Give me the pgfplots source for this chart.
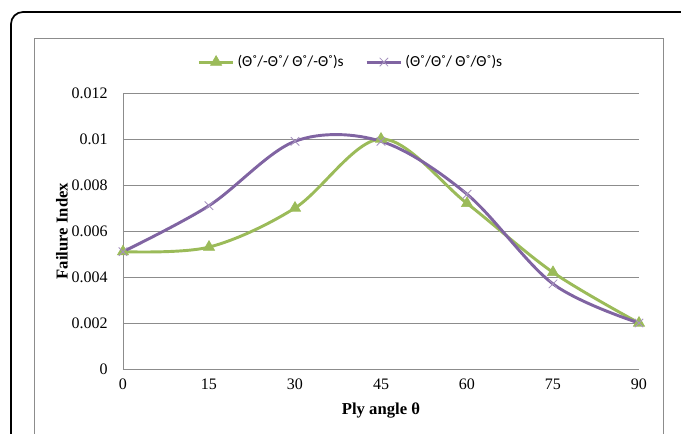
\documentclass[border=0pt]{standalone}
\usepackage{pgfplots}
\pgfplotsset{compat=1.18}
\usepackage{fontspec}
\setmainfont{Liberation Serif}
\newfontfamily\legfont{Carlito}
\definecolor{ogreen}{HTML}{9BBB59}
\definecolor{opurple}{HTML}{8064A2}
\definecolor{gridgray}{HTML}{8C8C8C}
\begin{document}
\begin{tikzpicture}
\useasboundingbox (0,0) rectangle (510.75pt,325.5pt);
\begin{scope}
\clip (0,0) rectangle (510.75pt,325.5pt);
\draw[black, line width=1.3pt, rounded corners=9pt] (8.25pt,-30pt) rectangle (540pt,316.5pt);
\draw[gridgray, line width=0.6pt] (25.5pt,-30pt) rectangle (497.25pt,297pt);
\end{scope}
\begin{axis}[
  at={(92.25pt,48.75pt)}, anchor=south west,
  scale only axis, width=387pt, height=207pt,
  xmin=0, xmax=90, ymin=0, ymax=0.012,
  xtick={0,15,...,90},
  ytick={0,0.002,0.004,0.006,0.008,0.01,0.012},
  yticklabels={0,0.002,0.004,0.006,0.008,0.01,0.012},
  scaled y ticks=false,
  /pgf/number format/assume math mode=true,
  tick label style={font=\fontsize{12}{14}\selectfont},
  major tick length=0pt,
  axis x line*=bottom, axis y line*=left,
  axis line style={gridgray, line width=0.7pt, -},
  ymajorgrids, grid style={gridgray, line width=0.7pt},
  xticklabel style={yshift=-4pt},
  yticklabel style={xshift=-8pt},
  xlabel={\textbf{Ply angle θ}},
  ylabel={\textbf{Failure Index}},
  label style={font=\fontsize{12.5}{14}\selectfont},
  xlabel style={yshift=-3pt},
  ylabel style={yshift=-4pt},
  legend columns=2,
  legend style={at={(0.442,1.112)}, anchor=center, draw=none, fill=none,
    font=\legfont\fontsize{11.5}{13}\selectfont,
    /tikz/every odd column/.append style={column sep=0pt},
    /tikz/every even column/.append style={column sep=14pt}},
  legend image code/.code={
    \draw[#1, mark repeat=2, mark phase=2] plot coordinates {(0pt,0pt) (13pt,0pt) (26pt,0pt)};},
]
\addplot[color=ogreen, line width=2.2pt, smooth, tension=0.55,
  mark=triangle*, mark size=4.8pt, mark options={solid, line width=0.5pt, fill=ogreen}]
  coordinates {(0,0.0051) (15,0.0053) (30,0.0070) (45,0.0100) (60,0.0072) (75,0.0042) (90,0.0020)};
\addlegendentry{(Θ˚/-Θ˚/ Θ˚/-Θ˚)s}
\addplot[color=opurple, line width=2.2pt, smooth, tension=0.55,
  mark=x, mark size=4.5pt, mark options={solid, line width=0.6pt, draw=opurple!70}]
  coordinates {(0,0.0051) (15,0.0071) (30,0.0099) (45,0.0099) (60,0.0076) (75,0.0037) (90,0.0020)};
\addlegendentry{(Θ˚/Θ˚/ Θ˚/Θ˚)s}
\end{axis}
\end{tikzpicture}
\end{document}
